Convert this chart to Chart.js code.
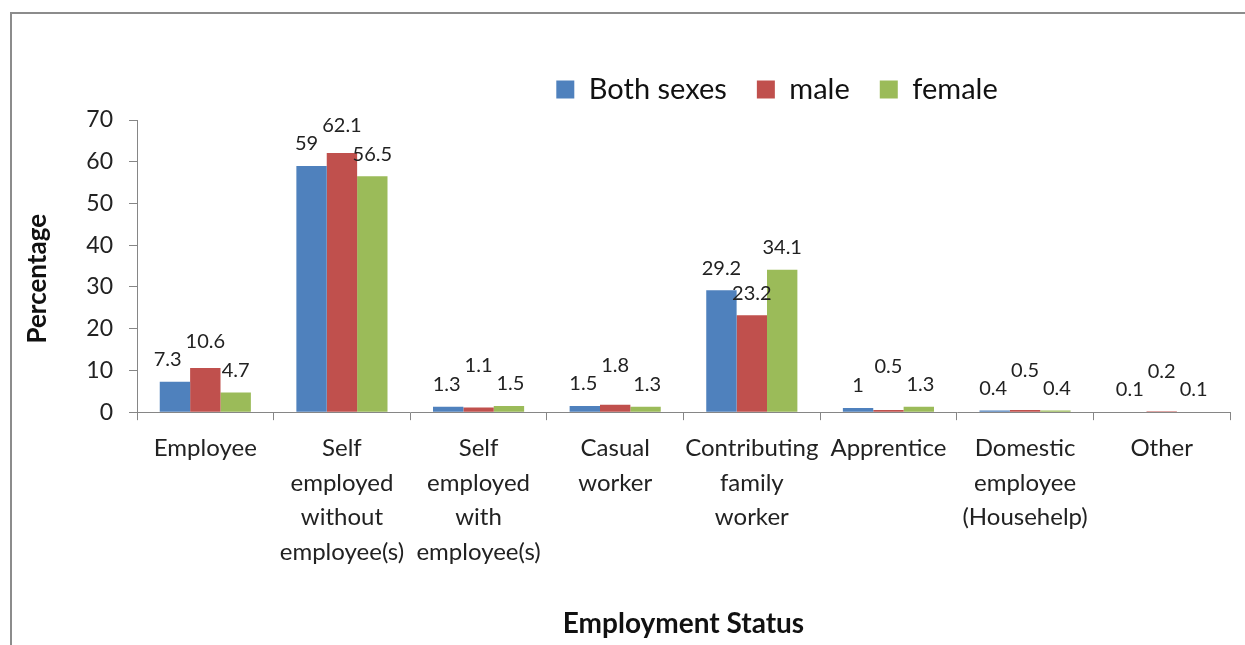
<!DOCTYPE html>
<html>
<head>
<meta charset="utf-8">
<style>
  html, body { margin: 0; padding: 0; background: #fff; }
  #wrap { width: 1245px; height: 645px; }
</style>
<script src="https://cdn.jsdelivr.net/npm/chart.js@4"></script>
</head>
<body>
<div id="wrap"><canvas id="chart"></canvas></div>
<script>
const categories = [
    ["Employee"],
    ["Self", "employed", "without", "employee(s)"],
    ["Self", "employed", "with", "employee(s)"],
    ["Casual", "worker"],
    ["Contributing", "family", "worker"],
    ["Apprentice"],
    ["Domestic", "employee", "(Househelp)"],
    ["Other"]
];
const bothSexes = [7.3, 59, 1.3, 1.5, 29.2, 1, 0.4, 0.1];
const male = [10.6, 62.1, 1.1, 1.8, 23.2, 0.5, 0.5, 0.2];
const female = [4.7, 56.5, 1.5, 1.3, 34.1, 1.3, 0.4, 0.1];
const seriesNames = ["Both sexes", "male", "female"];
const yTicks = [0, 10, 20, 30, 40, 50, 60, 70];

const FONT = "Lato, 'Open Sans', sans-serif";
const axisGrey = "#868686";

// frame line on top and left, like the excel chart border
const framePlugin = {
    id: "frame",
    beforeDraw(chart) {
        const c = chart.ctx;
        c.save();
        c.strokeStyle = "#8c8c8c";
        c.lineWidth = 2;
        c.beginPath();
        c.moveTo(11, 645);
        c.lineTo(11, 13);
        c.lineTo(1245, 13);
        c.stroke();
        c.restore();
    }
};

// legend sits right of centre and a bit higher in the original
const legendShift = {
    id: "legendShift",
    afterLayout(chart) {
        const lg = chart.legend;
        lg.left += 162;
        lg.right += 162;
        lg.top -= 6;
        lg.bottom -= 6;
    }
};

// value labels above bars, the middle one is lifted when it bumps a neighbour
// and the outer ones pushed sideways if they still collide
const valueLabels = {
    id: "valueLabels",
    afterDatasetsDraw(chart) {
        const c = chart.ctx;
        const metas = [0, 1, 2].map(i => chart.getDatasetMeta(i));
        c.save();
        c.font = "20px " + FONT;
        c.fillStyle = "#222";
        c.textAlign = "center";
        c.textBaseline = "middle";
        for (let j = 0; j < categories.length; j++) {
            const txt = metas.map((m, i) => String(chart.data.datasets[i].data[j]));
            const ws = txt.map(t => c.measureText(t).width);
            const xs = metas.map(m => m.data[j].x);
            const ys = metas.map(m => m.data[j].y - 22);
            if (Math.abs(ys[1] - ys[0]) < 14 || Math.abs(ys[1] - ys[2]) < 14) {
                ys[1] = Math.min(ys[1], Math.min(ys[0], ys[2]) - 18);
            }
            [0, 2].forEach(i => {
                if (Math.abs(ys[i] - ys[1]) < 20) {
                    const need = (ws[i] + ws[1]) / 2 + 4;
                    const have = Math.abs(xs[i] - xs[1]);
                    if (have < need) xs[i] += (i === 0 ? -1 : 1) * (need - have);
                }
            });
            txt.forEach((t, i) => c.fillText(t, xs[i], ys[i]));
        }
        c.restore();
    }
};

const ctx = document.querySelector("#chart").getContext("2d");
const chart = new Chart(ctx, {
    type: "bar",
    data: {
        labels: categories,
        datasets: [{
            label: seriesNames[0],
            data: bothSexes,
            backgroundColor: "#4F81BD"
        }, {
            label: seriesNames[1],
            data: male,
            backgroundColor: "#C0504D"
        }, {
            label: seriesNames[2],
            data: female,
            backgroundColor: "#9BBB59"
        }]
    },
    options: {
        responsive: true,
        maintainAspectRatio: false,
        animation: false,
        categoryPercentage: 0.667,
        barPercentage: 1,
        layout: {
            padding: { top: 51, right: 15, bottom: 0, left: 0 }
        },
        scales: {
            x: {
                grid: {
                    display: true,
                    drawOnChartArea: false,
                    tickLength: 8,
                    color: axisGrey
                },
                border: { color: axisGrey },
                ticks: {
                    color: "#222",
                    font: { family: FONT, size: 24, lineHeight: 1.44 },
                    padding: 11,
                    maxRotation: 0,
                    autoSkip: false
                },
                title: {
                    display: true,
                    text: "Employment Status",
                    color: "#111",
                    font: { family: FONT, size: 28, weight: "bold" },
                    padding: { top: 27, bottom: 4 }
                }
            },
            y: {
                min: yTicks[0],
                max: yTicks[yTicks.length - 1],
                afterFit(scale) {
                    scale.width = 137;
                },
                afterBuildTicks(scale) {
                    scale.ticks = yTicks.map(v => ({ value: v }));
                },
                grid: {
                    display: true,
                    drawOnChartArea: false,
                    tickLength: 8,
                    color: axisGrey
                },
                border: { color: axisGrey },
                ticks: {
                    color: "#222",
                    font: { family: FONT, size: 23 },
                    padding: 16
                },
                title: {
                    display: true,
                    text: "Percentage    ",
                    color: "#111",
                    font: { family: FONT, size: 26, weight: "bold" },
                    padding: { top: 22, bottom: 0 }
                }
            }
        },
        plugins: {
            legend: {
                position: "top",
                labels: {
                    color: "#111",
                    font: { family: FONT, size: 29 },
                    boxWidth: 18,
                    boxHeight: 18,
                    padding: 30
                }
            },
            tooltip: { enabled: false }
        }
    },
    plugins: [framePlugin, legendShift, valueLabels]
});
</script>
</body>
</html>
